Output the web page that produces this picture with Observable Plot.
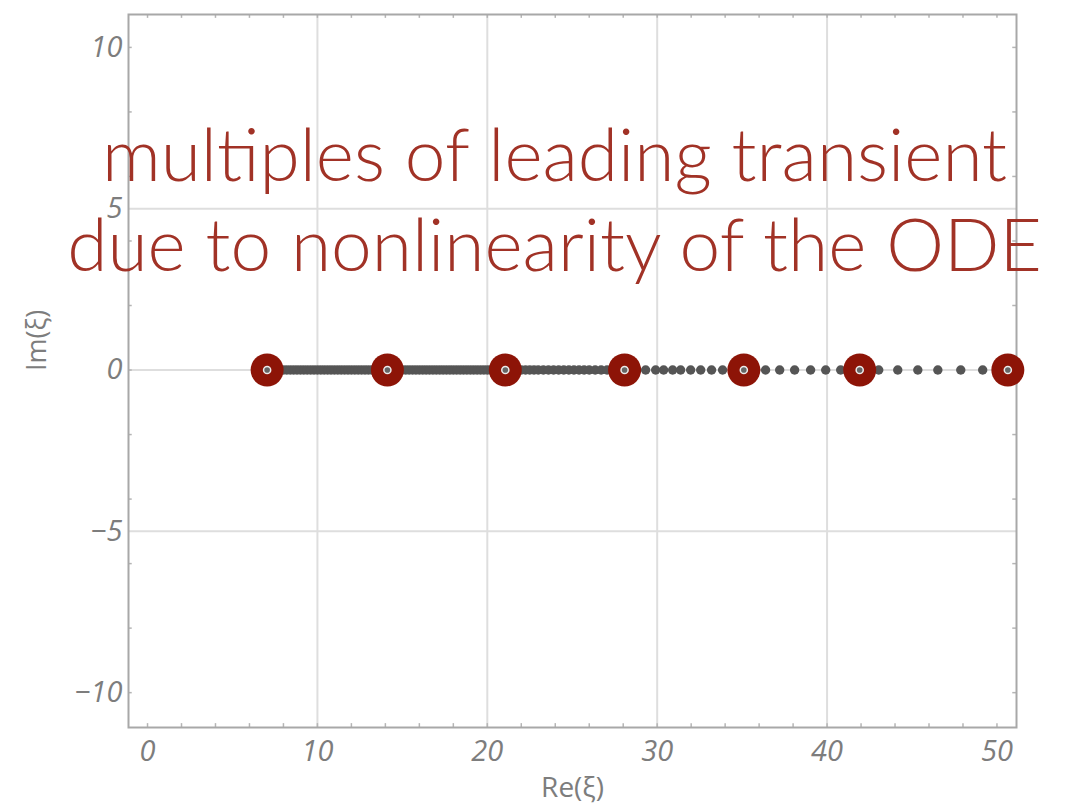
<!DOCTYPE html>
<html>
<head>
<meta charset="utf-8">
<script src="https://cdn.jsdelivr.net/npm/d3@7"></script>
<script src="https://cdn.jsdelivr.net/npm/@observablehq/plot@0.6"></script>
<style>
  html, body { margin: 0; padding: 0; background: #fff; }
  #chart svg { display: block; }
</style>
</head>
<body>
<div id="chart"></div>
<script>
// Leading transient multiples (red rings), Re(ξ) values; Im(ξ) = 0
const ringRe = [7.04, 14.12, 21.06, 28.08, 35.1, 41.92, 50.64];
// Accumulating singularities along the real axis (grey dots)
const dotRe = [
  7.0, 7.2, 7.4, 7.6, 7.8, 8.0, 8.2, 8.4, 8.6, 8.8, 9.0, 9.2, 9.4, 9.6, 9.8,
  10.0, 10.2, 10.4, 10.6, 10.8, 11.0, 11.2, 11.4, 11.6, 11.8, 12.0, 12.2, 12.4, 12.6, 12.8,
  13.0, 13.2, 13.4, 13.6, 13.8, 14.0, 14.2, 14.4, 14.6, 14.8, 15.0, 15.2, 15.4, 15.6, 15.8,
  16.0, 16.2, 16.4, 16.6, 16.8, 17.0, 17.2, 17.4, 17.6, 17.8, 18.0, 18.2, 18.4, 18.6, 18.8,
  19.0, 19.2, 19.4, 19.6, 19.8, 20.0, 20.2, 20.4, 20.6, 20.8, 21.0,
  21.25, 21.5, 21.75, 22.0, 22.25, 22.5, 22.75, 23.0, 23.3, 23.6, 23.9, 24.2, 24.5, 24.8,
  25.1, 25.4, 25.7, 26.0, 26.35, 26.7, 27.05, 27.4, 27.75, 28.1, 28.45, 28.8,
  29.32, 29.91, 30.38, 30.91, 31.38, 31.97, 32.56,
  33.2, 33.85, 34.5, 35.15, 35.8, 36.38, 37.21, 38.09, 39.03, 39.92, 40.8, 41.92, 43.04,
  44.16, 45.34, 46.52, 47.87, 49.16, 50.64
];
const xTicks = [0, 10, 20, 30, 40, 50];
const yTicks = [-10, -5, 0, 5, 10];
const xGrid = [10, 20, 30, 40];
const yGrid = [-5, 0, 5];
const xMinor = [0, 2, 4, 6, 8, 10, 12, 14, 16, 18, 20, 22, 24, 26, 28, 30, 32, 34, 36, 38, 40, 42, 44, 46, 48, 50];
const yMinor = [-10, -8, -6, -4, -2, 0, 2, 4, 6, 8, 10];
const titleLines = ["multiples of leading transient", "due to nonlinearity of the ODE"];
const xLabel = "Re(ξ)";
const yLabel = "Im(ξ)";

const xDomain = [-1.12, 51.15];
const yDomain = [-11.08, 11.02];

const rings = ringRe.map(re => ({re, im: 0}));
const dots = dotRe.map(re => ({re, im: 0}));

const tickFont = "'Open Sans', 'DejaVu Sans', sans-serif";
const tickColor = "#7d7d7d";
const fs = 73;

const chart = Plot.plot({
  width: 1075,
  height: 805,
  marginLeft: 128,
  marginRight: 59,
  marginTop: 14,
  marginBottom: 78,
  style: {background: "#fff"},
  x: {domain: xDomain},
  y: {domain: yDomain},
  marks: [
    Plot.ruleX(xGrid, {stroke: "#dedede", strokeWidth: 2}),
    Plot.ruleY(yGrid, {stroke: "#dedede", strokeWidth: 2}),
    Plot.ruleX(xMinor, {y1: yDomain[0], y2: yDomain[0] + 0.12, stroke: "#b5b5b5", strokeWidth: 1.5}),
    Plot.ruleX(xMinor, {y1: yDomain[1], y2: yDomain[1] - 0.12, stroke: "#b5b5b5", strokeWidth: 1.5}),
    Plot.ruleY(yMinor, {x1: xDomain[0], x2: xDomain[0] + 0.22, stroke: "#b5b5b5", strokeWidth: 1.5}),
    Plot.ruleY(yMinor, {x1: xDomain[1], x2: xDomain[1] - 0.22, stroke: "#b5b5b5", strokeWidth: 1.5}),
    Plot.frame({stroke: "#a8a8a8", strokeWidth: 2}),
    Plot.axisX(xTicks, {tickSize: 0, tickPadding: 13, fontSize: 29, fontStyle: "italic", fontFamily: tickFont, fill: tickColor, label: null}),
    Plot.axisY(yTicks, {tickSize: 0, tickPadding: 6, fontSize: 29, fontStyle: "italic", fontFamily: tickFont, fill: tickColor, label: null}),
    Plot.text([xLabel], {frameAnchor: "bottom", lineAnchor: "bottom", dy: 69, fontSize: 28, fontFamily: tickFont, fill: tickColor}),
    Plot.text([yLabel], {frameAnchor: "left", rotate: -90, dx: -91, fontSize: 27, fontFamily: tickFont, fill: tickColor}),
    Plot.dot(dots, {x: "re", y: "im", r: 4.7, fill: "#555", stroke: "none"}),
    Plot.dot(rings, {x: "re", y: "im", r: 16.5, fill: "#8d1407", stroke: "none"}),
    Plot.dot(rings, {x: "re", y: "im", r: 4.3, fill: "#ececec", stroke: "none"}),
    Plot.dot(rings, {x: "re", y: "im", r: 2.8, fill: "#666", stroke: "none"}),
    Plot.text([titleLines.join("\n")], {
      frameAnchor: "top", lineAnchor: "bottom", dx: -18, dy: 256,
      lineHeight: 89.3 / fs, fontSize: fs, fontWeight: 300,
      fontFamily: "Lato, 'Open Sans', sans-serif", fill: "#a13226"
    })
  ]
});
document.getElementById("chart").appendChild(chart);
</script>
</body>
</html>
